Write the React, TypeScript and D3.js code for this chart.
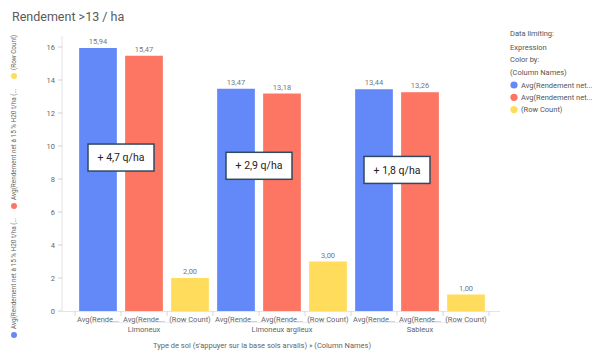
import React from "react";
import * as d3 from "d3";

const groups = ["Limoneux", "Limoneux argileux", "Sableux"];
const series = ["Avg(Rendement net à 15 % H20 t/ha (...", "Avg(Rendement net à 15 % H20 t/ha (...", "(Row Count)"];
const seriesShort = ["Avg(Rende...", "Avg(Rende...", "(Row Count)"];
const legendLabels = ["Avg(Rendement net...", "Avg(Rendement net...", "(Row Count)"];
const colors = ["#6389f8", "#fc7663", "#ffdc5c"];
const blueValues = [15.94, 13.47, 13.44];
const redValues = [15.47, 13.18, 13.26];
const countValues = [2.0, 3.0, 1.0];
const yTicks = [0, 2, 4, 6, 8, 10, 12, 14, 16];
const annotations = ["+ 4,7 q/ha", "+ 2,9 q/ha", "+ 1,8 q/ha"];
const annotationY = [9.3, 8.8, 8.55];

const W = 600, H = 360;
const fmt = (v: number) => v.toFixed(2).replace(".", ",");

export default function App() {
  const slots: { key: string; g: number; s: number; v: number }[] = [];
  groups.forEach((g, gi) => {
    [blueValues, redValues, countValues].forEach((arr, si) => {
      slots.push({ key: `${gi}-${si}`, g: gi, s: si, v: arr[gi] });
    });
  });
  const x = d3.scaleBand<string>().domain(slots.map((d) => d.key)).range([75, 489]).paddingInner(0.18).paddingOuter(0.09);
  const y = d3.scaleLinear().domain([0, 16]).range([311, 47]);
  const step = x.step();
  const boundary = (k: string) => (x(k) as number) - (step * 0.18) / 2;
  const font = "Roboto, 'Noto Sans', sans-serif";
  const boundaries = slots.map((d) => boundary(d.key)).concat([boundary(slots[slots.length - 1].key) + step]);

  return (
    <svg width={W} height={H} style={{ display: "block", margin: "-8px" }} fontFamily={font}>
      <rect width={W} height={H} fill="#fff" />
      <text x={12} y={20.5} fontSize={12.5} fill="#5a5a5a">Rendement &gt;13 / ha</text>

      {/* y axis */}
      <line x1={62} x2={62} y1={36} y2={311} stroke="#e3e3e8" />
      {yTicks.map((t) => (
        <g key={t}>
          <line x1={58} x2={62} y1={y(t)} y2={y(t)} stroke="#d0d0d8" />
          <text x={55} y={y(t)} dy="0.35em" textAnchor="end" fontSize={7.5} fill="#666">{t}</text>
        </g>
      ))}

      {/* x axis */}
      <line x1={62} x2={500} y1={311.5} y2={311.5} stroke="#e3e3e8" />
      {boundaries.map((bx, i) => (
        <line key={i} x1={bx} x2={bx} y1={311} y2={316} stroke="#d6d6dc" />
      ))}
      {groups.map((g, gi) => (
        <line key={g} x1={boundaries[gi * 3] + 16} x2={boundaries[gi * 3 + 3] - 16} y1={322.5} y2={322.5} stroke="#ececf0" />
      ))}

      {slots.map((d) => (
        <g key={d.key}>
          <rect x={x(d.key)} y={y(d.v)} width={x.bandwidth()} height={y(0) - y(d.v)} fill={colors[d.s]} />
          <text x={(x(d.key) as number) + x.bandwidth() / 2} y={y(d.v) - 4} textAnchor="middle" fontSize={7.5} fill="#777">{fmt(d.v)}</text>
          <text x={(x(d.key) as number) + x.bandwidth() / 2} y={322} textAnchor="middle" fontSize={7.5} fill="#666">{seriesShort[d.s]}</text>
        </g>
      ))}
      {groups.map((g, gi) => (
        <text key={g} x={(x(`${gi}-1`) as number) + x.bandwidth() / 2} y={332} textAnchor="middle" fontSize={7.5} fill="#666">{g}</text>
      ))}
      <text x={262} y={348} textAnchor="middle" fontSize={7.5} fill="#666">Type de sol (s'appuyer sur la base sols arvalis)  »  (Column Names)</text>

      {/* annotations */}
      {annotations.map((a, i) => {
        const cx = boundary(`${i}-1`);
        const cy = y(annotationY[i]);
        return (
          <g key={i}>
            <rect x={cx - 33} y={cy - 13.5} width={66} height={27} fill="#fff" stroke="#2e4a60" strokeWidth={1.5} />
            <text x={cx} y={cy} dy="0.35em" textAnchor="middle" fontSize={10.5} fill="#222">{a}</text>
          </g>
        );
      })}

      {/* left rotated legend */}
      {[335, 206, 76].map((cy, i) => (
        <g key={i}>
          <circle cx={14} cy={cy} r={3} fill={colors[i]} />
          <text transform={`translate(14,${cy - 6}) rotate(-90)`} dy="0.35em" fontSize={6.4} fill="#666">{series[i]}</text>
        </g>
      ))}

      {/* right legend */}
      <text x={510} y={36} fontSize={7.5} fill="#555">Data limiting:</text>
      <text x={510} y={50} fontSize={7.5} fill="#555">Expression</text>
      <text x={510} y={62} fontSize={7.5} fill="#555">Color by:</text>
      <text x={510} y={75} fontSize={7.5} fill="#555">(Column Names)</text>
      {legendLabels.map((l, i) => (
        <g key={i}>
          <circle cx={514} cy={85 + i * 12.3} r={3.6} fill={colors[i]} />
          <text x={521} y={85 + i * 12.3} dy="0.35em" fontSize={7.5} fill="#555">{l}</text>
        </g>
      ))}
    </svg>
  );
}
